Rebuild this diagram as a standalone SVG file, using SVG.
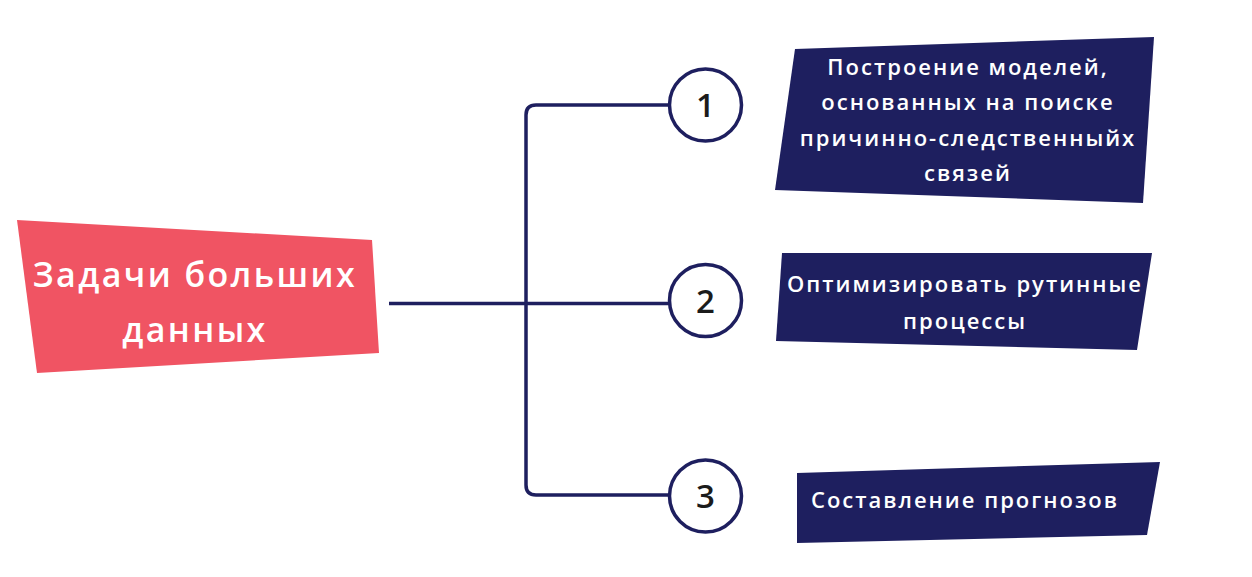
<svg xmlns="http://www.w3.org/2000/svg" width="1252" height="577" viewBox="0 0 1252 577">
<style>
.box{fill:#1E1F5F}
.t{font-family:"Open Sans","Noto Sans","Liberation Sans",sans-serif;font-weight:600;fill:#FFFFFF;text-anchor:middle}
.tb{font-size:22px;letter-spacing:2px}
.tm{font-size:34px;letter-spacing:2.4px}
.num{font-family:"Open Sans","Noto Sans","Liberation Sans",sans-serif;font-weight:600;font-size:33px;fill:#1B1B1B;text-anchor:middle}
.ln{fill:none;stroke:#1E1F5F;stroke-width:3.5}
.circ{fill:#FFFFFF;stroke:#1E1F5F;stroke-width:3.5}
</style>
<rect width="1252" height="577" fill="#FFFFFF"/>
<g id="connectors">
<path class="ln" d="M389 303.5 H670"/>
<path class="ln" d="M670 105 H536 Q526 105 526 115 V485 Q526 495 536 495 H670"/>
</g>
<g id="main">
<polygon points="17,220 372,240 379,353 37,373" fill="#F05463"/>
<text class="t tm" x="195" y="287">Задачи больших</text>
<text class="t tm" x="195" y="342">данных</text>
</g>
<g id="c1"><circle class="circ" cx="705.5" cy="105" r="36"/><text class="num" x="705.5" y="117">1</text></g>
<g id="c2"><circle class="circ" cx="705.5" cy="300.5" r="36"/><text class="num" x="705.5" y="312.5">2</text></g>
<g id="c3"><circle class="circ" cx="705.5" cy="496" r="36"/><text class="num" x="705.5" y="508">3</text></g>
<g id="b1">
<polygon class="box" points="795,49 1154,37 1143,203 775,190"/>
<text class="t tb" x="968" y="75">Построение моделей,</text>
<text class="t tb" x="968" y="110">основанных на поиске</text>
<text class="t tb" x="968" y="146">причинно-следственныйх</text>
<text class="t tb" x="968" y="181">связей</text>
</g>
<g id="b2">
<polygon class="box" points="782,253 1152,253 1137,350 776,341"/>
<text class="t tb" x="965" y="292">Оптимизировать рутинные</text>
<text class="t tb" x="965" y="329">процессы</text>
</g>
<g id="b3">
<polygon class="box" points="797,473 1160,462 1147,535 797,543"/>
<text class="t tb" x="965" y="508">Составление прогнозов</text>
</g>
</svg>
